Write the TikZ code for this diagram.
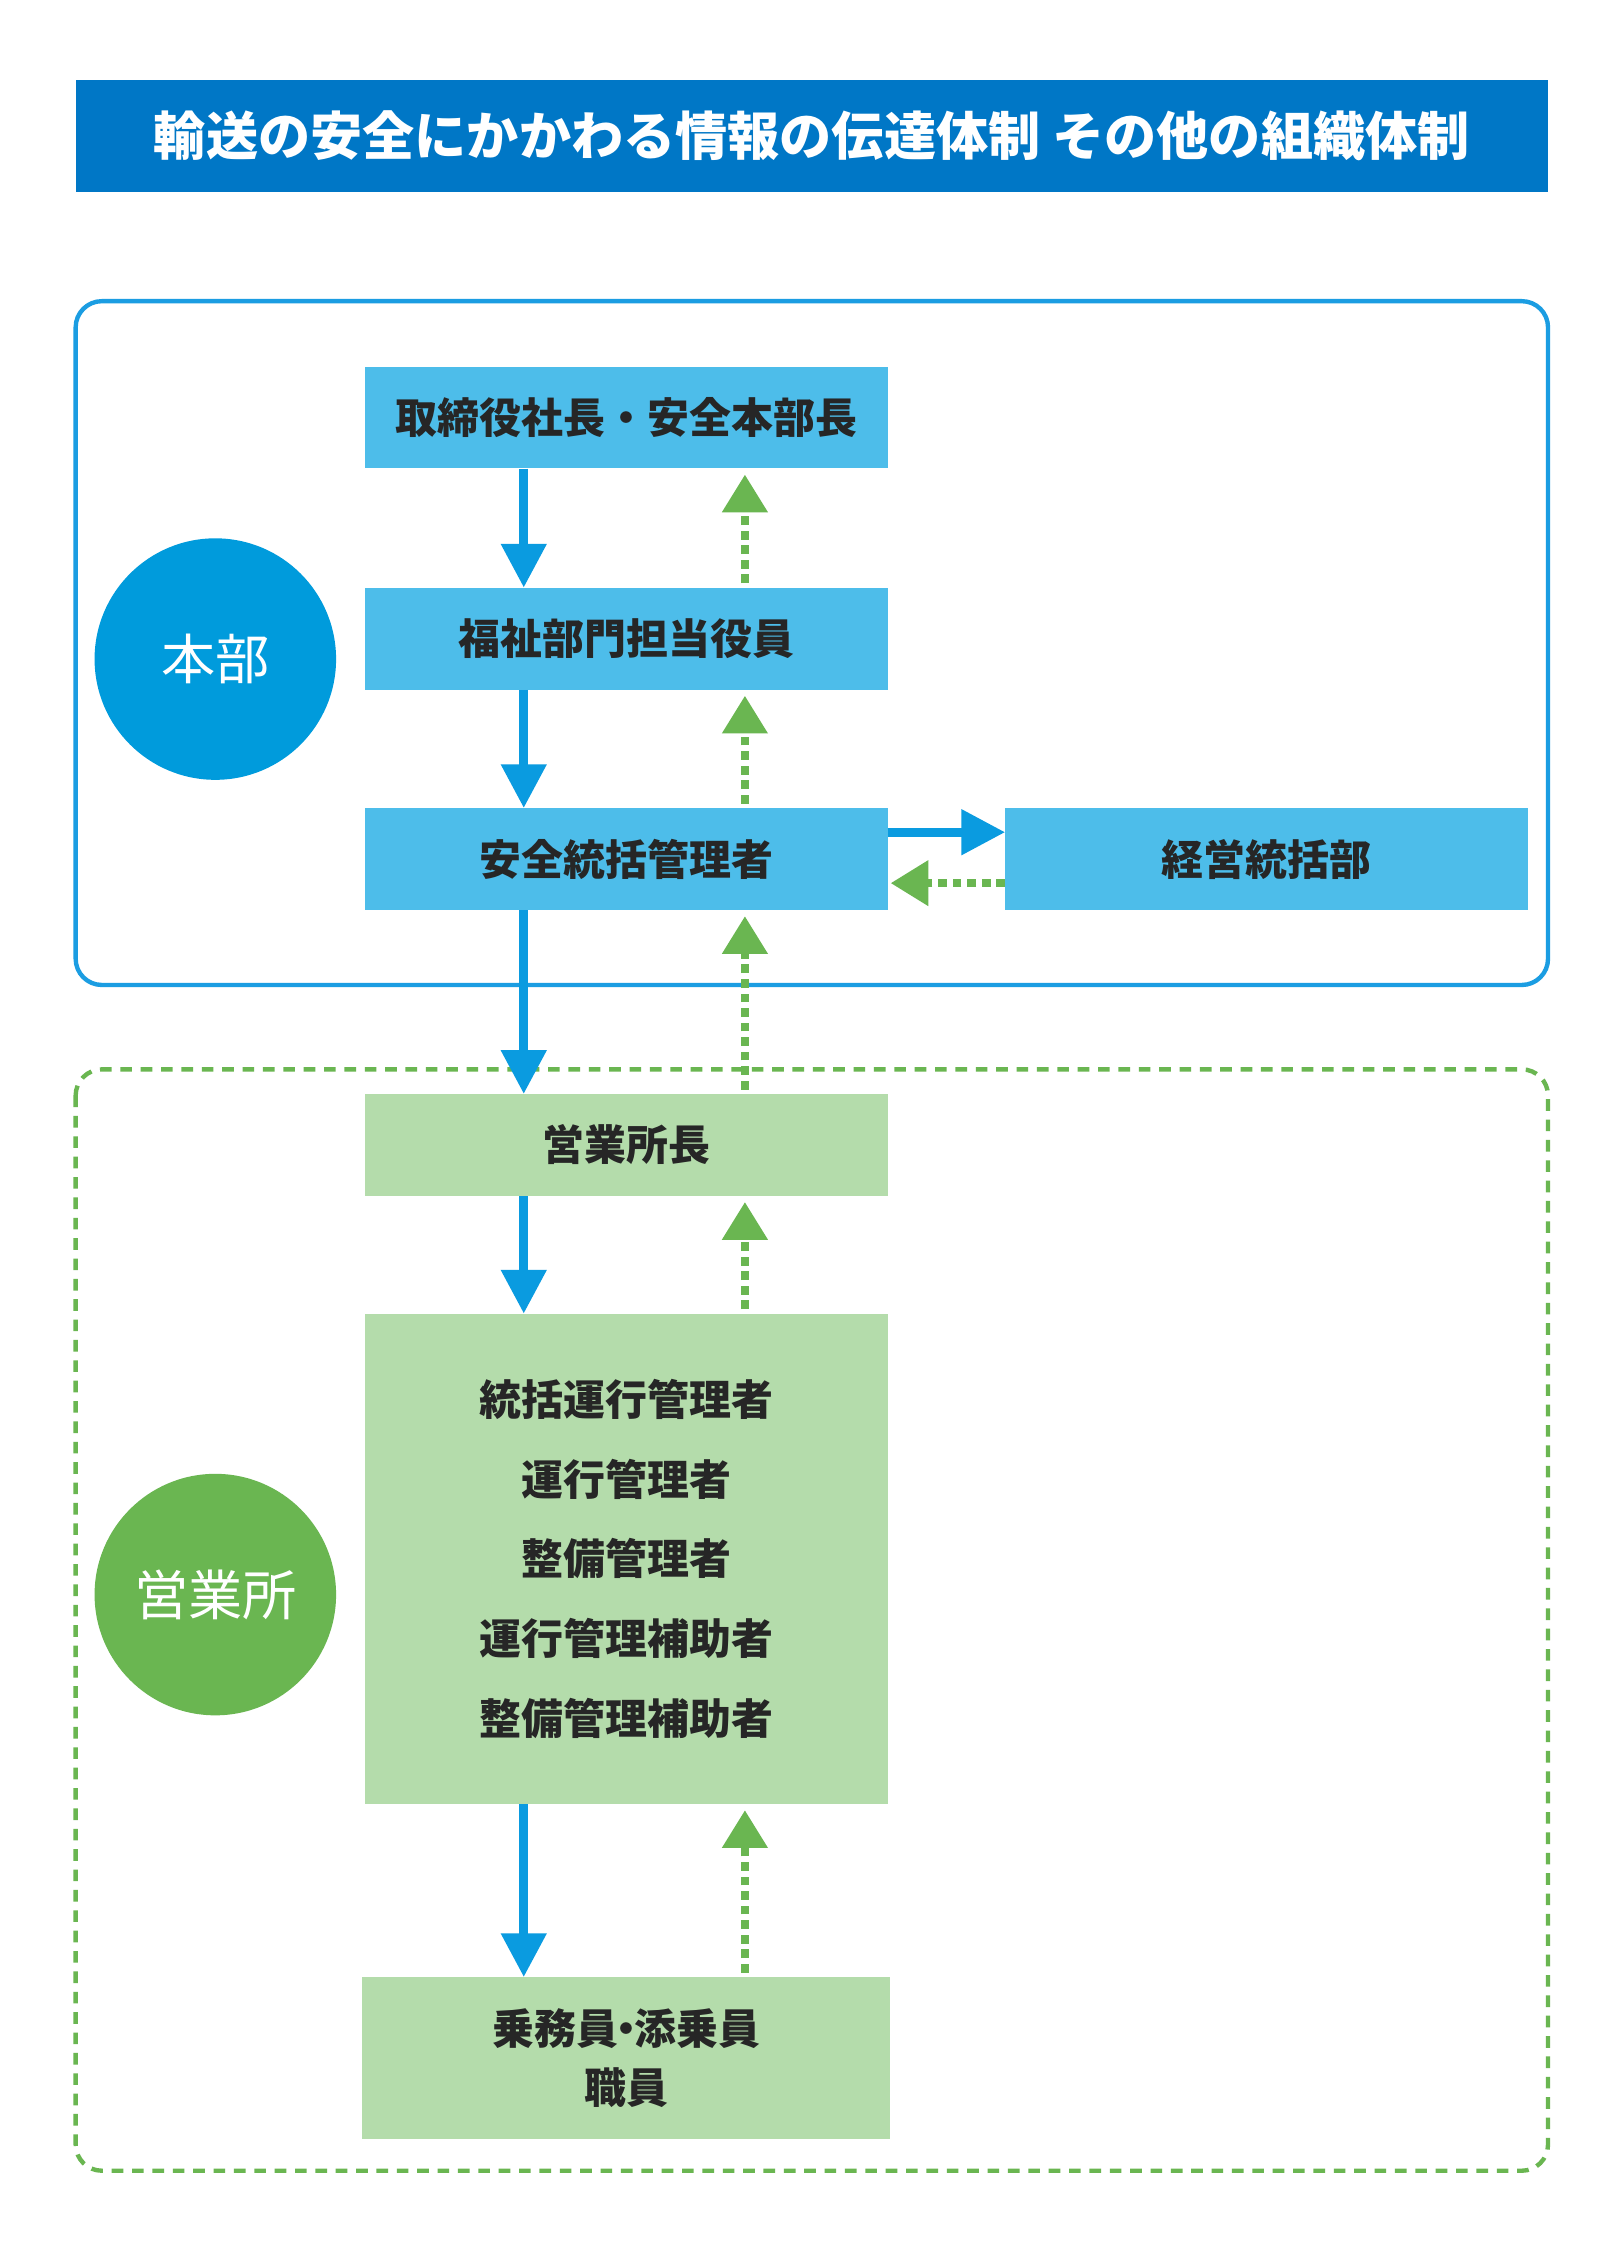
\documentclass[tikz,border=0pt]{standalone}
\usepackage{fontspec}
\setmainfont{Noto Sans CJK JP}
\usetikzlibrary{arrows.meta}
\definecolor{titleblue}{HTML}{0077C6}
\definecolor{frameblue}{HTML}{1B9DE2}
\definecolor{boxblue}{HTML}{4DBDEA}
\definecolor{circblue}{HTML}{009BDC}
\definecolor{arrblue}{HTML}{0A9BE0}
\definecolor{gfill}{HTML}{B4DCAB}
\definecolor{ggreen}{HTML}{6AB651}
\begin{document}
\begin{tikzpicture}[x=0.05cm,y=-0.05cm,
 bbox/.style={fill=boxblue,minimum width=359*0.05cm,minimum height=70*0.05cm,font=\fontsize{41}{49}\selectfont\bfseries,text=black!85,inner sep=0},
 gbox/.style={bbox,fill=gfill},
 circ/.style={circle,minimum size=166*0.05cm,inner sep=0,text=white,font=\fontsize{53}{60}\selectfont},
 down/.style={draw=arrblue,line width=6*0.05cm,-{Triangle[length=30*0.05cm,width=30*0.05cm]}},
 up/.style={draw=ggreen,line width=6*0.05cm,dash pattern=on 6*0.05cm off 4*0.05cm,-{Triangle[length=26*0.05cm,width=30*0.05cm]}}]
\useasboundingbox (0,0) rectangle (1100,1541);
\fill[white] (0,0) rectangle (1100,1541);
\node[fill=titleblue,minimum width=1012*0.05cm,minimum height=77*0.05cm,text=white,font=\fontsize{51}{58}\selectfont\bfseries,inner sep=0] (title) at (558,93.5) {輸送の安全にかかわる情報の伝達体制 その他の組織体制};
\draw[frameblue,line width=3*0.05cm,rounded corners=18*0.05cm] (52,207) rectangle (1064,677);
\draw[ggreen,line width=3*0.05cm,dash pattern=on 8*0.05cm off 6*0.05cm,rounded corners=18*0.05cm] (52,735) rectangle (1064,1492);
\node[circ,fill=circblue] (c1) at (148,453) {本部};
\node[circ,fill=ggreen] (c2) at (148,1096) {営業所};
\node[bbox] (b1) at (430.5,287) {取締役社長・安全本部長};
\node[bbox] (b2) at (430.5,439) {福祉部門担当役員};
\node[bbox] (b3) at (430.5,590.5) {安全統括管理者};
\node[bbox] (b4) at (870.5,590.5) {経営統括部};
\node[gbox] (g1) at (430.5,787) {営業所長};
\node[gbox,minimum height=337*0.05cm,align=center,font=\fontsize{41}{78}\selectfont\bfseries] (g2) at (430.5,1071.5) {統括運行管理者\\運行管理者\\整備管理者\\運行管理補助者\\整備管理補助者};
\node[gbox,minimum width=363*0.05cm,minimum height=111*0.05cm,align=center,font=\fontsize{41}{57}\selectfont\bfseries] (g3) at (430.5,1414.5) {乗務員{\kern-0.3em}・{\kern-0.3em}添乗員\\職員};
\coordinate (xb) at (360,0);
\coordinate (xg) at (512,0);
\foreach \a/\b in {b1/b2,b2/b3,b3/g1,g1/g2,g2/g3}{
 \draw[down] (\a.south -| xb) -- (\b.north -| xb);
 \draw[up,shorten <=3*0.05cm,shorten >=4*0.05cm] (\b.north -| xg) -- (\a.south -| xg);
}
\coordinate (ya) at (0,572);
\coordinate (yb) at (0,607);
\draw[down] (b3.east |- ya) -- (b4.west |- ya);
\draw[up,shorten >=2*0.05cm] (b4.west |- yb) -- (b3.east |- yb);
\end{tikzpicture}
\end{document}
